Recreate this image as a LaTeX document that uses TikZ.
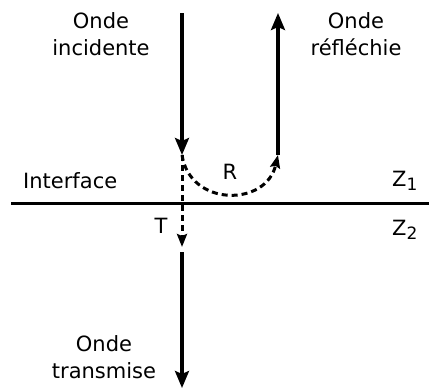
\documentclass[tikz,border=0pt]{standalone}
\usepackage{fontspec}
\setmainfont{DejaVu Sans}
\usetikzlibrary{arrows.meta}

\begin{document}
\begin{tikzpicture}[
  x=1pt, y=-1pt,
  wave/.style={line width=3.2pt, -{Stealth[length=17pt, width=14pt, inset=3pt]}},
  part/.style={line width=3pt, dash pattern=on 6pt off 4pt,
               -{Stealth[length=13pt, width=10pt, inset=2pt]}},
  label/.style={font=\fontsize{21}{27}\selectfont, align=center, inner sep=0pt},
  border/.style={line width=3pt}
]
\useasboundingbox (0,0) rectangle (429,388);
% Points
\coordinate (inTop) at (182,13);
\coordinate (hit) at (182,155);
\coordinate (refBot) at (278,155);
\coordinate (refTop) at (278,13);
\coordinate (tEnd) at (182,247);
\coordinate (trTop) at (182,252);
\coordinate (trBot) at (182,388);
\coordinate (ifL) at (11,203);
\coordinate (ifR) at (429,203);
% Labels
\node[label] (inc) at (101,34) {Onde\\incidente};
\node[label] (refl) at (356,34) {Onde\\réfléchie};
\node[label] (trans) at (104,357) {Onde\\transmise};
\node[label, anchor=base west] (iface) at (23,188) {Interface};
\node[label] (rlab) at (230,172) {R};
\node[label] (tlab) at (161,226) {T};
\node[label, anchor=base west] (z1) at (392,186) {Z\raisebox{-0.35ex}{\fontsize{17}{17}\selectfont 1}};
\node[label, anchor=base west] (z2) at (392,235) {Z\raisebox{-0.35ex}{\fontsize{17}{17}\selectfont 2}};
% Interface
\draw[border] (ifL) -- (ifR);
% Waves
\draw[wave] (inTop) -- (hit);
\draw[wave] (refBot) -- (refTop);
\draw[part] (hit) .. controls (190,207) and (266,207) .. (refBot);
\draw[part] (hit) -- (tEnd);
\draw[wave] (trTop) -- (trBot);
\end{tikzpicture}
\end{document}
